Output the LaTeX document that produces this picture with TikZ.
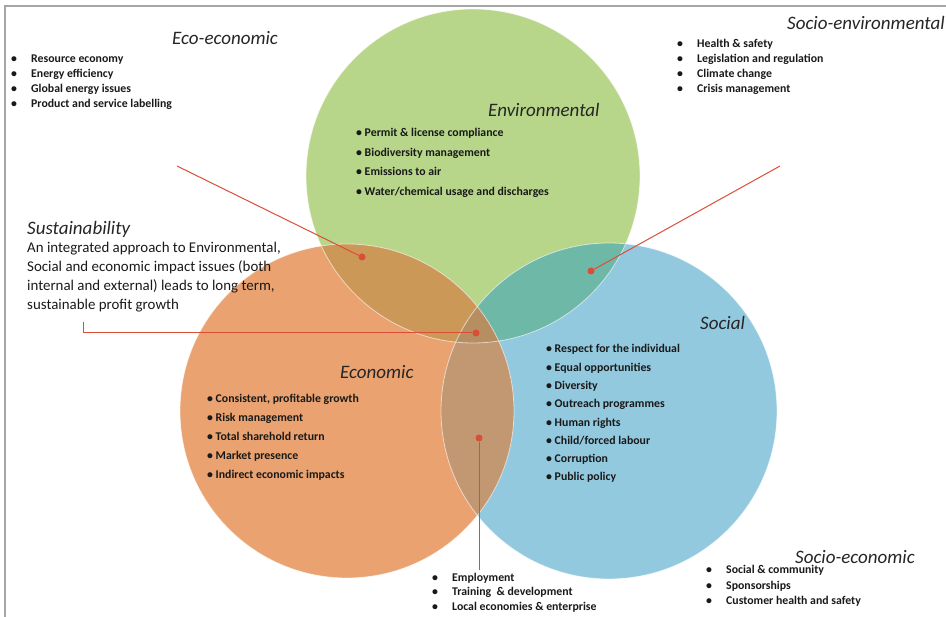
\documentclass[tikz,border=0pt]{standalone}
\usepackage{fontspec}
\setmainfont{Carlito}
\usepackage{tikz}
\usetikzlibrary{calc}

\definecolor{envfill}{RGB}{183,214,138}
\definecolor{ecofill}{RGB}{233,162,112}
\definecolor{socfill}{RGB}{147,201,222}
\definecolor{envecofill}{RGB}{203,152,88}
\definecolor{envsocfill}{RGB}{110,184,168}
\definecolor{ecosocfill}{RGB}{194,152,114}
\definecolor{allfill}{RGB}{182,142,98}
\definecolor{linkred}{RGB}{218,78,56}

\newcommand{\itembul}{\makebox[20pt][l]{\textbullet}}

\begin{document}
\begin{tikzpicture}[x=1pt, y=-1pt,
    heading/.style={anchor=base west, inner sep=0, font=\fontsize{19}{22}\selectfont\itshape, text=black!85},
    items/.style={anchor=base west, inner sep=0, align=left, font=\fontsize{11.8}{15}\selectfont\bfseries, text=black!90},
    edge/.style={draw=white, line width=0.8pt, opacity=0.6},
    link/.style={draw=linkred, line width=1pt},
    dot/.style={circle, fill=linkred, inner sep=0, minimum size=7pt}]

    \useasboundingbox (0,0) rectangle (946,617);
    \draw [gray!70, line width=2pt] (5,617) -- (5,6) -- (946,6);

    % the three circles
    \coordinate (cEnv) at (473,176);
    \coordinate (cEco) at (347,411);
    \coordinate (cSoc) at (609,411);

    \fill [envfill] (cEnv) circle (167);
    \fill [socfill] (cSoc) circle (168);
    \fill [ecofill] (cEco) circle (167);
    \begin{scope}
        \clip (cEnv) circle (167);
        \fill [envecofill] (cEco) circle (167);
        \fill [envsocfill] (cSoc) circle (168);
    \end{scope}
    \begin{scope}
        \clip (cEco) circle (167);
        \fill [ecosocfill] (cSoc) circle (168);
        \clip (cSoc) circle (168);
        \fill [allfill] (cEnv) circle (167);
    \end{scope}
    \draw [edge] (cEnv) circle (167);
    \draw [edge] (cSoc) circle (168);
    \draw [edge] (cEco) circle (167);

    % headings
    \node (ecoecoTitle) [heading] at (172,45) {Eco-economic};
    \node (envTitle) [heading] at (488,117) {Environmental};
    \node (socenvTitle) [heading] at (787,30) {Socio-environmental};
    \node (susTitle) [heading] at (27,235) {Sustainability};
    \node (ecoTitle) [heading] at (340,379) {Economic};
    \node (socTitle) [heading] at (700,330) {Social};
    \node (socecoTitle) [heading] at (795,564) {Socio-economic};

    % lists (base = last line)
    \node (ecoecoList) [items] at (11,108) {
        \itembul Resource economy \\ \itembul Energy efficiency \\
        \itembul Global energy issues \\ \itembul Product and service labelling
    };
    \node (socenvList) [items] at (677,93) {
        \itembul Health \& safety \\ \itembul Legislation and regulation \\
        \itembul Climate change \\ \itembul Crisis management
    };
    \node (envList) [items, font=\fontsize{11.8}{19.5}\selectfont\bfseries] at (356,195.5) {
        \textbullet\ Permit \& license compliance \\ \textbullet\ Biodiversity management \\
        \textbullet\ Emissions to air \\ \textbullet\ Water/chemical usage and discharges
    };
    \node (susText) [items, font=\fontsize{14.9}{19}\selectfont] at (27,310) {
        An integrated approach to Environmental, \\
        Social and economic impact issues (both \\
        internal and external) leads to long term, \\
        sustainable profit growth
    };
    \node (ecoList) [items, font=\fontsize{11.8}{19}\selectfont\bfseries] at (207,479) {
        \textbullet\ Consistent, profitable growth \\ \textbullet\ Risk management \\
        \textbullet\ Total sharehold return \\ \textbullet\ Market presence \\
        \textbullet\ Indirect economic impacts
    };
    \node (socList) [items, font=\fontsize{11.8}{18.3}\selectfont\bfseries] at (546,481) {
        \textbullet\ Respect for the individual \\ \textbullet\ Equal opportunities \\
        \textbullet\ Diversity \\ \textbullet\ Outreach programmes \\
        \textbullet\ Human rights \\ \textbullet\ Child/forced labour \\
        \textbullet\ Corruption \\ \textbullet\ Public policy
    };
    \node (socecoList) [items, font=\fontsize{11.8}{15.5}\selectfont\bfseries] at (706,605) {
        \itembul Social \& community \\ \itembul Sponsorships \\
        \itembul Customer health and safety
    };
    \node (empList) [items, font=\fontsize{11.8}{14.5}\selectfont\bfseries] at (432,610) {
        \itembul Employment \\ \itembul Training \ \& development \\
        \itembul Local economies \& enterprise
    };

    % pointers
    \node (dEnvEco) [dot] at (362,257) {};
    \node (dEnvSoc) [dot] at (591,271) {};
    \node (dAll) [dot] at (476,333) {};
    \node (dEcoSoc) [dot] at (479,438) {};
    \coordinate (ecoecoEnd) at (177,166);
    \coordinate (socenvEnd) at (780,166);
    \coordinate (susEnd) at (83,322);
    \coordinate (empEnd) at (479,570);

    \draw [link] (ecoecoEnd) -- (dEnvEco);
    \draw [link] (socenvEnd) -- (dEnvSoc);
    \draw [link] (susEnd) |- (dAll);
    \draw [link] (dEcoSoc) -- (empEnd);
\end{tikzpicture}
\end{document}
